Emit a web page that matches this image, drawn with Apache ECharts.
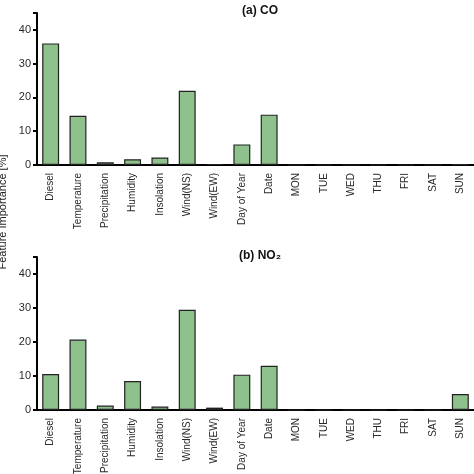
<!DOCTYPE html>
<html>
<head>
<meta charset="UTF-8">
<title>Feature importance</title>
<script src="https://cdn.jsdelivr.net/npm/echarts@6/dist/echarts.min.js"></script>
<style>
  html, body { margin: 0; padding: 0; background: #fff; }
  #chart { width: 474px; height: 474px; }
</style>
</head>
<body>
<div id="chart"></div>
<script type="text/javascript">
    // categories and feature importance [%]
    var features = ['Diesel', 'Temperature', 'Precipitation', 'Humidity', 'Insolation',
        'Wind(NS)', 'Wind(EW)', 'Day of Year', 'Date',
        'MON', 'TUE', 'WED', 'THU', 'FRI', 'SAT', 'SUN'];
    var coValues  = [36.0, 14.6, 0.8, 1.7, 2.2, 22.0, 0.3, 6.1, 14.9, 0, 0, 0, 0, 0, 0, 0.2];
    var no2Values = [10.6, 20.7, 1.3, 8.5, 1.0, 29.5, 0.7, 10.4, 13.0, 0, 0, 0, 0, 0, 0, 4.7];
    var yTicks = [0, 10, 20, 30, 40];

    var chart = echarts.init(document.getElementById('chart'));

    var barStyle = { color: '#8fc18c', borderColor: '#222', borderWidth: 1.2 };
    var labelFont = 'Liberation Sans, Arial, sans-serif';

    function xAxisFor(idx) {
        return {
            type: 'category',
            gridIndex: idx,
            data: features,
            axisLine: { lineStyle: { color: '#000', width: 2 } },
            axisTick: { alignWithLabel: true, length: 4, lineStyle: { color: '#000', width: 2 } },
            axisLabel: { rotate: 90, fontSize: 10, color: '#2a2a2a', fontFamily: labelFont, margin: 8, interval: 0 }
        };
    }

    function yAxisFor(idx) {
        return {
            type: 'value',
            gridIndex: idx,
            min: 0,
            max: 45,
            interval: 10,
            splitLine: { show: false },
            axisLine: { show: true, lineStyle: { color: '#000', width: 2 } },
            axisTick: { show: true, length: 4, lineStyle: { color: '#000', width: 2 } },
            axisLabel: {
                fontSize: 11, color: '#2a2a2a', fontFamily: labelFont, margin: 6,
                formatter: function (v) { return yTicks.indexOf(v) >= 0 ? v : ''; }
            }
        };
    }

    var option = {
        animation: false,
        title: [
            { text: '(a) CO', left: 255, top: 0, textAlign: 'center',
              textStyle: { fontSize: 12, fontWeight: 'bold', color: '#111', fontFamily: labelFont } },
            { text: '(b) NO₂', left: 255, top: 245, textAlign: 'center',
              textStyle: { fontSize: 12, fontWeight: 'bold', color: '#111', fontFamily: labelFont } }
        ],
        graphic: [{
            type: 'text',
            x: 3, y: 212,
            rotation: Math.PI / 2,
            style: {
                text: 'Feature Importance [%]',
                fontSize: 11, fill: '#222', fontFamily: labelFont,
                align: 'center', verticalAlign: 'middle'
            }
        }],
        grid: [
            { left: 37, right: 0, top: 13, height: 152, outerBoundsMode: 'none' },
            { left: 37, right: 0, top: 257, height: 153, outerBoundsMode: 'none' }
        ],
        xAxis: [xAxisFor(0), xAxisFor(1)],
        yAxis: [yAxisFor(0), yAxisFor(1)],
        series: [
            { name: 'CO', type: 'bar', xAxisIndex: 0, yAxisIndex: 0, data: coValues,
              barWidth: '62%', itemStyle: barStyle },
            { name: 'NO2', type: 'bar', xAxisIndex: 1, yAxisIndex: 1, data: no2Values,
              barWidth: '62%', itemStyle: barStyle }
        ]
    };
    chart.setOption(option);
</script>
</body>
</html>
